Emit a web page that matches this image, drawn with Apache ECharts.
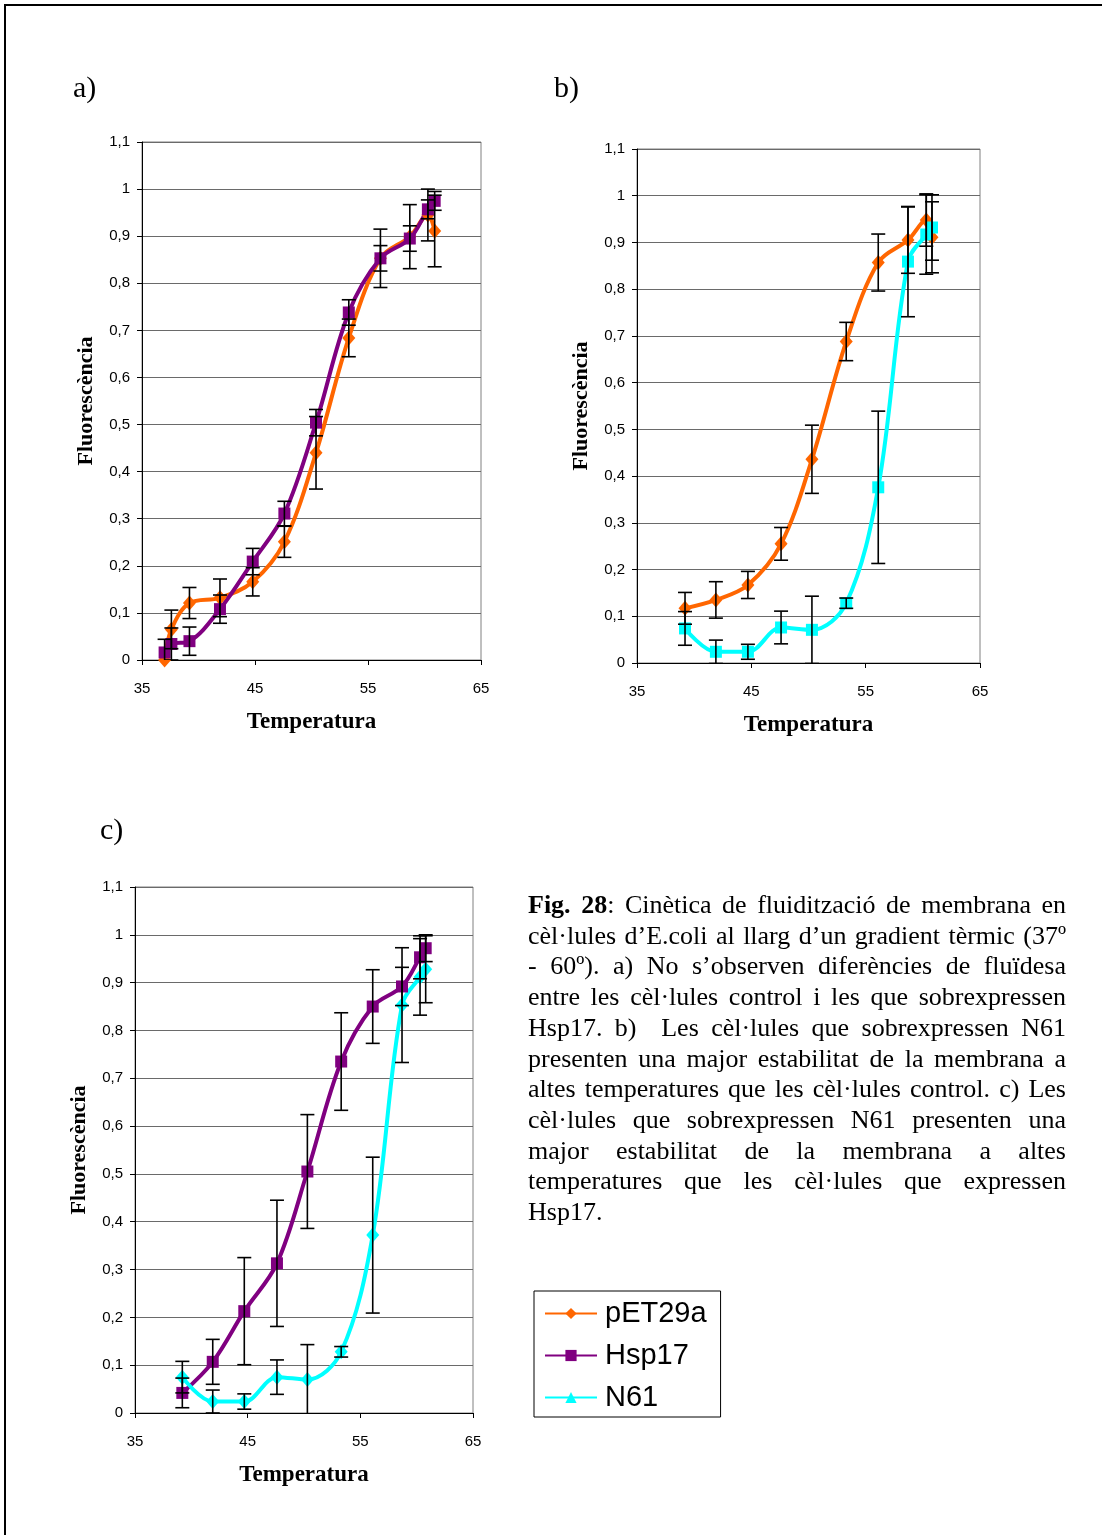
<!DOCTYPE html>
<html>
<head>
<meta charset="utf-8">
<script src="https://cdn.jsdelivr.net/npm/echarts@6/dist/echarts.min.js"></script>
<style>
  html, body { margin: 0; padding: 0; background: #fff; }
  #wrap { position: relative; width: 1102px; height: 1535px; overflow: hidden; }
  #frame { position: absolute; left: 4px; top: 4px; width: 1200px; height: 1600px;
           border-top: 2px solid #000; border-left: 2px solid #000; }
  #chart { position: absolute; left: 0; top: 0; width: 1102px; height: 1535px; }
  #caption { position: absolute; left: 528px; top: 890px; width: 538px;
             font-family: "Liberation Serif", "Times New Roman", serif; font-size: 26px;
             line-height: 30.7px; color: #000; }
  #caption div { text-align: justify; text-align-last: justify; white-space: nowrap; }
  #caption div.last { text-align-last: left; }
</style>
</head>
<body>
<div id="wrap">
  <div id="frame"></div>
  <div id="chart"></div>
  <div id="caption">
    <div><b>Fig. 28</b>: Cinètica de fluidització de membrana en</div>
    <div>cèl·lules d’E.coli al llarg d’un gradient tèrmic (37º</div>
    <div>- 60º). a) No s’observen diferències de fluïdesa</div>
    <div>entre les cèl·lules control i les que sobrexpressen</div>
    <div>Hsp17. b)&nbsp; Les cèl·lules que sobrexpressen N61</div>
    <div>presenten una major estabilitat de la membrana a</div>
    <div>altes temperatures que les cèl·lules control. c) Les</div>
    <div>cèl·lules que sobrexpressen N61 presenten una</div>
    <div>major estabilitat de la membrana a altes</div>
    <div>temperatures que les cèl·lules que expressen</div>
    <div class="last">Hsp17.</div>
  </div>
</div>
<script>
// dades llegides del gràfic
const tempA = [37.0, 37.6, 39.2, 41.9, 44.8, 47.6, 50.4, 53.3, 56.1, 58.7, 60.3, 60.9];
const petA = [0.0, 0.065, 0.121, 0.132, 0.166, 0.251, 0.44, 0.684, 0.853, 0.899, 0.945, 0.911];
const petErrA = [0.0, 0.041, 0.033, 0.04, 0.03, 0.033, 0.077, 0.04, 0.062, 0.068, 0.055, 0.076];
const hspA = [0.016, 0.034, 0.04, 0.108, 0.209, 0.311, 0.504, 0.738, 0.853, 0.895, 0.957, 0.975];
const hspErrA = [0.028, 0.034, 0.03, 0.03, 0.028, 0.026, 0.028, 0.027, 0.027, 0.027, 0.02, 0.02];

const tempBC = [39.2, 41.9, 44.7, 47.6, 50.3, 53.3, 56.1, 58.7, 60.3, 60.8];
const petB = [0.117, 0.135, 0.167, 0.255, 0.436, 0.688, 0.857, 0.905, 0.948, 0.911];
const petErrB = [0.034, 0.039, 0.029, 0.035, 0.073, 0.041, 0.061, 0.071, 0.056, 0.076];
const n61B = [0.074, 0.024, 0.024, 0.076, 0.071, 0.128, 0.376, 0.859, 0.917, 0.932];
const n61ErrB = [0.036, 0.025, 0.016, 0.035, 0.072, 0.011, 0.163, 0.118, 0.085, 0.07];

const hspC = [0.042, 0.107, 0.213, 0.313, 0.505, 0.735, 0.85, 0.892, 0.953, 0.972];
const hspErrC = [0.031, 0.047, 0.112, 0.132, 0.119, 0.102, 0.077, 0.04, 0.045, 0.028];
const n61C = [0.075, 0.024, 0.024, 0.075, 0.07, 0.128, 0.372, 0.853, 0.912, 0.928];
const n61ErrC = [0.033, 0.024, 0.016, 0.036, 0.073, 0.011, 0.163, 0.12, 0.08, 0.07];

const xTicks = [35, 45, 55, 65];
const panelLabels = ['a)', 'b)', 'c)'];

const ORANGE = '#FF6600', PURPLE = '#800080', CYAN = '#00FFFF';
const SANS = '"Liberation Sans", Arial, sans-serif';
const SERIF = '"Liberation Serif", "Times New Roman", serif';

// mides de cada gràfic (px)
const grids = [
  { left: 142, top: 142, width: 339, height: 518 },
  { left: 637, top: 149, width: 343, height: 514 },
  { left: 135, top: 887, width: 338, height: 526 }
];

let pairs = function(xs, ys) {
  return xs.map((x, i) => [x, ys[i]]);
}
let triples = function(xs, ys, es) {
  return xs.map((x, i) => [x, ys[i], es[i]]);
}

let xAxis = function(i) {
  return {
    gridIndex: i, type: 'value', min: 35, max: 65, interval: 10,
    axisLine: { show: true, lineStyle: { color: '#000', width: 1 } },
    axisTick: { show: true, inside: false, length: 5, lineStyle: { color: '#000' } },
    axisLabel: { color: '#000', fontFamily: SANS, fontSize: 15, margin: 21,
      formatter: v => xTicks.indexOf(v) >= 0 ? String(v) : '' },
    splitLine: { show: false },
    name: 'Temperatura', nameLocation: 'middle', nameGap: 51,
    nameTextStyle: { color: '#000', fontFamily: SERIF, fontWeight: 'bold', fontSize: 23 }
  }
}
let yAxis = function(i) {
  return {
    gridIndex: i, type: 'value', min: 0, max: 1.1, interval: 0.1,
    axisLine: { show: true, lineStyle: { color: '#000', width: 1 } },
    axisTick: { show: true, inside: false, length: 5, lineStyle: { color: '#000' } },
    axisLabel: { color: '#000', fontFamily: SANS, fontSize: 15, margin: 12,
      formatter: v => String(+v.toFixed(1)).replace('.', ',') },
    splitLine: { show: true, lineStyle: { color: '#6a6a6a', width: 1 } },
    name: 'Fluorescència', nameLocation: 'middle', nameGap: 45,
    nameTextStyle: { color: '#000', fontFamily: SERIF, fontWeight: 'bold', fontSize: 22 }
  }
}

let lineSeries = function(name, i, xs, ys, color, symbol) {
  return {
    type: 'line', name: name, xAxisIndex: i, yAxisIndex: i,
    data: pairs(xs, ys), smooth: 0.35, smoothMonotone: 'none',
    symbol: symbol, symbolSize: symbol === 'diamond' ? [13, 15] : 12,
    showAllSymbol: true,
    lineStyle: { color: color, width: 4 },
    itemStyle: { color: color },
    z: 2
  }
}

// barres d'error
let errorSeries = function(name, i, xs, ys, es) {
  return {
    type: 'custom', name: name + ' err', xAxisIndex: i, yAxisIndex: i,
    data: triples(xs, ys, es), encode: { x: 0, y: 1 }, z: 5, clip: true,
    renderItem: function(params, api) {
      const x = api.value(0), y = api.value(1), e = api.value(2);
      if (!e) return null;
      const top = api.coord([x, y + e]);
      const bot = api.coord([x, y - e]);
      const hw = 7;
      const style = { stroke: '#000', lineWidth: 1.6 };
      return {
        type: 'group',
        children: [
          { type: 'line', shape: { x1: top[0], y1: top[1], x2: bot[0], y2: bot[1] }, style: style },
          { type: 'line', shape: { x1: top[0] - hw, y1: top[1], x2: top[0] + hw, y2: top[1] }, style: style },
          { type: 'line', shape: { x1: bot[0] - hw, y1: bot[1], x2: bot[0] + hw, y2: bot[1] }, style: style }
        ]
      };
    }
  }
}

// sèries només per a la llegenda
let legendOnly = function(name, color, symbol) {
  return {
    type: 'line', name: name, xAxisIndex: 0, yAxisIndex: 0, data: [],
    symbol: symbol, symbolSize: 12,
    lineStyle: { color: color, width: 2 }, itemStyle: { color: color }
  }
}

const chart = echarts.init(document.getElementById('chart'), null, { renderer: 'canvas' });
chart.setOption({
  animation: false,
  backgroundColor: 'transparent',
  title: [
    { text: panelLabels[0], left: 68, top: 69 },
    { text: panelLabels[1], left: 549, top: 69 },
    { text: panelLabels[2], left: 95, top: 811 }
  ].map(t => Object.assign(t, { textStyle: { fontFamily: SERIF, fontSize: 30, fontWeight: 'normal', color: '#000' } })),
  grid: grids.map(g => Object.assign({ show: true, borderColor: '#808080', borderWidth: 1, backgroundColor: 'transparent' }, g)),
  xAxis: [xAxis(0), xAxis(1), xAxis(2)],
  yAxis: [yAxis(0), yAxis(1), yAxis(2)],
  legend: {
    orient: 'vertical', left: 534, top: 1291,
    padding: [8, 14, 5, 10], itemGap: 13, itemWidth: 52, itemHeight: 14,
    borderColor: '#000', borderWidth: 1, backgroundColor: '#fff',
    textStyle: { fontFamily: SANS, fontSize: 29, color: '#000', padding: [0, 0, 0, 3] },
    data: ['pET29a', 'Hsp17', 'N61']
  },
  series: [
    legendOnly('pET29a', ORANGE, 'diamond'),
    legendOnly('Hsp17', PURPLE, 'rect'),
    legendOnly('N61', CYAN, 'triangle'),
    // a)
    lineSeries('pET29a', 0, tempA, petA, ORANGE, 'diamond'),
    lineSeries('Hsp17', 0, tempA, hspA, PURPLE, 'rect'),
    errorSeries('pET29a', 0, tempA, petA, petErrA),
    errorSeries('Hsp17', 0, tempA, hspA, hspErrA),
    // b)
    lineSeries('pET29a', 1, tempBC, petB, ORANGE, 'diamond'),
    lineSeries('N61', 1, tempBC, n61B, CYAN, 'rect'),
    errorSeries('pET29a', 1, tempBC, petB, petErrB),
    errorSeries('N61', 1, tempBC, n61B, n61ErrB),
    // c)
    lineSeries('Hsp17', 2, tempBC, hspC, PURPLE, 'rect'),
    lineSeries('N61', 2, tempBC, n61C, CYAN, 'diamond'),
    errorSeries('Hsp17', 2, tempBC, hspC, hspErrC),
    errorSeries('N61', 2, tempBC, n61C, n61ErrC)
  ]
});
</script>
</body>
</html>
